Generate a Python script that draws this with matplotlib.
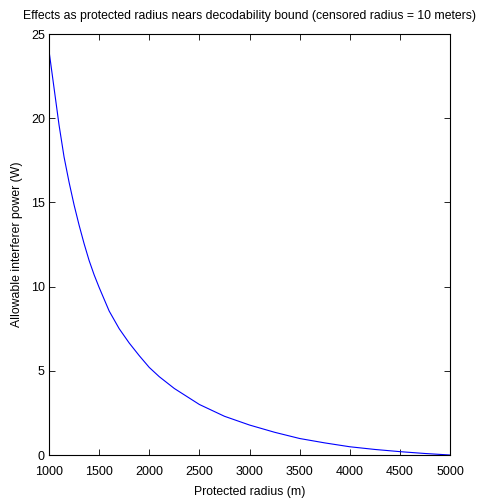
import matplotlib
matplotlib.use("Agg")
import matplotlib.pyplot as plt

# values
radius = [1000, 1050, 1100, 1150, 1200, 1250, 1300, 1350, 1400, 1450, 1500,
          1600, 1700, 1800, 1900, 2000, 2100, 2250, 2500, 2750, 3000,
          3250, 3500, 3750, 4000, 4250, 4500, 4750, 5000]
power = [24.0, 21.8, 19.6, 17.7, 16.2, 14.85, 13.65, 12.55, 11.55, 10.7, 9.95,
         8.55, 7.5, 6.65, 5.9, 5.2, 4.65, 3.95, 3.0, 2.3, 1.78,
         1.35, 0.98, 0.72, 0.49, 0.33, 0.2, 0.09, 0.0]
xticks = [1000, 1500, 2000, 2500, 3000, 3500, 4000, 4500, 5000]
yticks = [0, 5, 10, 15, 20, 25]

plt.rcParams["font.family"] = ["Liberation Sans", "DejaVu Sans"]
plt.rcParams["font.size"] = 9

fig = plt.figure(figsize=(4.81, 5.01), dpi=100)
ax = fig.add_axes([0.1019, 0.0918, 0.8337, 0.8403])

ax.plot(radius, power, color="blue", lw=0.8)

ax.set_xlim(1000, 5000)
ax.set_ylim(0, 25)
ax.set_xticks(xticks)
ax.set_yticks(yticks)
ax.tick_params(direction="in", top=True, right=True, length=4, width=0.6, pad=3)
ax.tick_params(axis="x", pad=8)
for s in ax.spines.values():
    s.set_linewidth(0.8)

ax.set_xlabel("Protected radius (m)", fontsize=8.8, labelpad=6)
ax.set_ylabel("Allowable interferer power (W)", fontsize=8.8, labelpad=6)
ax.set_title("Effects as protected radius nears decodability bound (censored radius = 10 meters)",
             fontsize=8.8, pad=11)

fig.savefig("out.png", dpi=100)
